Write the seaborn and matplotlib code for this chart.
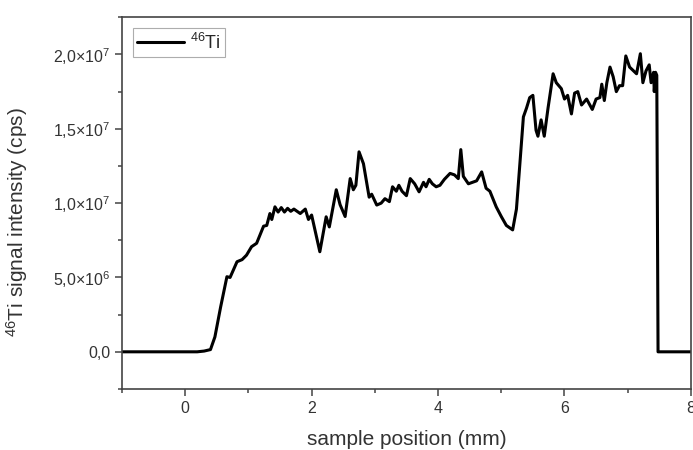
import matplotlib
matplotlib.use("Agg")
import matplotlib.pyplot as plt
import matplotlib.ticker as ticker
import pandas as pd
import seaborn as sns

# sample position (mm) and 46Ti signal (cps)
position = [-1.0, 0.19, 0.30, 0.40, 0.47, 0.56, 0.66, 0.71, 0.82, 0.90,
            0.97, 1.05, 1.13, 1.24, 1.29, 1.34, 1.37, 1.42, 1.47, 1.52,
            1.57, 1.62, 1.67, 1.72, 1.77, 1.82, 1.90, 1.95, 2.00, 2.13,
            2.23, 2.28, 2.39, 2.45, 2.53, 2.61, 2.66, 2.70, 2.75, 2.82,
            2.91, 2.95, 3.03, 3.10, 3.16, 3.23, 3.28, 3.34, 3.38, 3.43,
            3.50, 3.56, 3.63, 3.70, 3.77, 3.81, 3.86, 3.91, 3.97, 4.03,
            4.10, 4.19, 4.26, 4.32, 4.36, 4.40, 4.48, 4.61, 4.69, 4.76,
            4.82, 4.92, 5.00, 5.08, 5.18, 5.24, 5.29, 5.35, 5.40, 5.45,
            5.50, 5.55, 5.58, 5.63, 5.68, 5.74, 5.82, 5.87, 5.95, 6.00,
            6.05, 6.11, 6.16, 6.21, 6.27, 6.35, 6.44, 6.50, 6.56, 6.59,
            6.63, 6.67, 6.72, 6.77, 6.82, 6.87, 6.92, 6.97, 7.03, 7.14,
            7.20, 7.24, 7.29, 7.34, 7.37, 7.41, 7.42, 7.44, 7.46, 7.48,
            8.0]
signal = [0.0, 0.0, 0.05, 0.15, 1.0, 3.0, 5.05, 5.0, 6.06, 6.2,
          6.5, 7.07, 7.3, 8.45, 8.5, 9.3, 8.9, 9.75, 9.4, 9.7,
          9.4, 9.65, 9.45, 9.6, 9.45, 9.3, 9.6, 8.9, 9.2, 6.73,
          9.08, 8.4, 10.9, 9.9, 9.1, 11.65, 10.9, 11.2, 13.45, 12.65,
          10.4, 10.6, 9.87, 10.0, 10.3, 10.1, 11.1, 10.8, 11.2, 10.8,
          10.5, 11.65, 11.3, 10.76, 11.4, 11.1, 11.6, 11.3, 11.1, 11.2,
          11.6, 12.0, 11.9, 11.65, 13.6, 11.8, 11.3, 11.5, 12.1, 11.0,
          10.8, 9.75, 9.1, 8.5, 8.2, 9.6, 12.4, 15.8, 16.4, 17.1,
          17.25, 14.9, 14.5, 15.6, 14.5, 16.4, 18.7, 18.1, 17.7, 17.0,
          17.25, 16.0, 17.4, 17.5, 16.6, 17.0, 16.3, 17.0, 17.1, 18.0,
          16.9, 18.1, 19.15, 18.5, 17.5, 17.9, 17.9, 19.9, 19.15, 18.7,
          20.05, 18.1, 18.9, 19.3, 18.1, 18.8, 17.5, 18.8, 18.6, 0.0,
          0.0]

df = pd.DataFrame({"pos": position, "cps": [v * 1e6 for v in signal]})

sns.set_style("ticks")
plt.rcParams["font.family"] = ["Liberation Sans", "DejaVu Sans"]
plt.rcParams["mathtext.fontset"] = "custom"
plt.rcParams["mathtext.rm"] = "Liberation Sans"
plt.rcParams["mathtext.it"] = "Liberation Sans:italic"

fig = plt.figure(figsize=(6.93, 4.5), dpi=100)
ax = fig.add_axes([0.176, 0.1356, 0.821, 0.826])

sns.lineplot(data=df, x="pos", y="cps", ax=ax, color="black", linewidth=2.2,
             estimator=None, label=r"$^{46}$Ti")

ax.set_xlim(-1, 8)
ax.set_ylim(-2.5e6, 2.25e7)
ax.xaxis.set_major_locator(ticker.MultipleLocator(2))
ax.xaxis.set_minor_locator(ticker.MultipleLocator(1))
ax.yaxis.set_major_locator(ticker.MultipleLocator(5e6))
ax.yaxis.set_minor_locator(ticker.MultipleLocator(2.5e6))


def sci_fmt(v, pos):
    if v == 0:
        return "0,0"
    e = len(str(int(abs(v)))) - 1
    m = v / 10 ** e
    return ("%.1f" % m).replace(".", ",") + r"×10$^{%d}$" % e


ax.yaxis.set_major_formatter(ticker.FuncFormatter(sci_fmt))

for s in ax.spines.values():
    s.set_color("#444444")
    s.set_linewidth(1.2)
ax.tick_params(which="major", direction="out", length=5, width=1.1,
               color="#444444", labelsize=11.5, labelcolor="#333333")
ax.tick_params(which="minor", direction="out", length=3, width=1.1,
               color="#444444")

ax.set_xlabel("sample position (mm)", fontsize=15, color="#333333",
              labelpad=10)
ax.set_ylabel(r"$^{46}$Ti signal intensity (cps)", fontsize=15,
              color="#333333")
ax.yaxis.set_label_coords(-0.162, 0.45)

leg = ax.legend(loc="upper left", fontsize=13, handlelength=2.6,
                fancybox=False, borderpad=0.25, borderaxespad=0.6,
                handletextpad=0.3)
leg.get_frame().set_edgecolor("#999999")
leg.get_frame().set_linewidth(0.8)

fig.savefig("out.png", dpi=100)
